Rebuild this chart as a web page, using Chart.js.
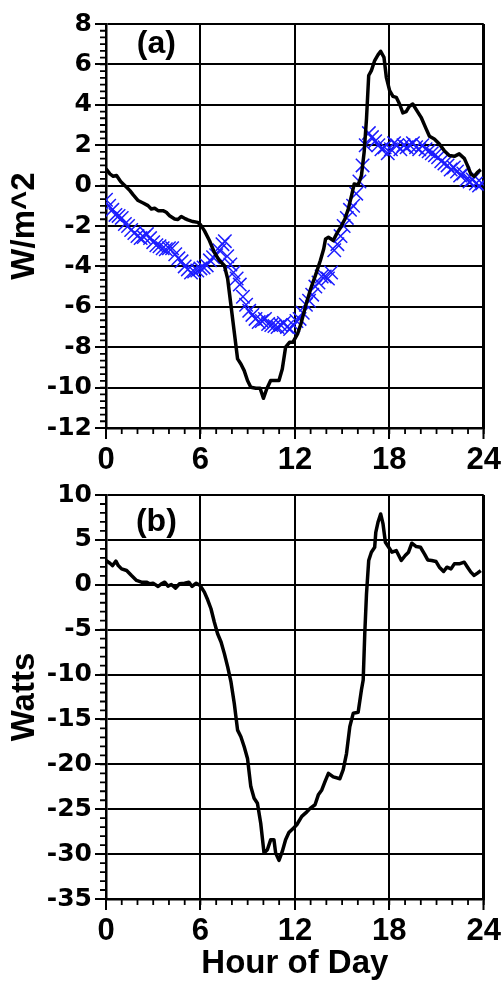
<!DOCTYPE html>
<html><head><meta charset="utf-8">
<script src="https://cdn.jsdelivr.net/npm/chart.js@4.4.0/dist/chart.umd.min.js"></script>
<style>
html,body{margin:0;padding:0;background:#fff;}
#wrap{position:relative;width:504px;height:984px;overflow:hidden;}
#ca{position:absolute;left:0;top:0;}
#cb{position:absolute;left:0;top:476px;}
</style></head><body>
<div id="wrap"><canvas id="ca" width="504" height="476"></canvas><canvas id="cb" width="504" height="508"></canvas></div>
<script>
// ---- data ----
const hourTicks = [0, 6, 12, 18, 24];
const fluxTicks = [-12, -10, -8, -6, -4, -2, 0, 2, 4, 6, 8];
const wattTicks = [-35, -30, -25, -20, -15, -10, -5, 0, 5, 10];

// panel (a) black line
const modelHours = [0,0.25,0.46,0.67,0.93,1.09,1.31,1.52,1.73,2.04,
  2.36,2.67,2.88,3.09,3.31,3.62,3.83,4.04,4.36,4.57,
  4.78,4.99,5.2,5.52,5.83,6.0,6.25,6.57,6.88,7.2,
  7.52,7.73,7.94,8.15,8.36,8.57,8.78,8.99,9.2,9.52,
  9.79,10.0,10.21,10.46,10.74,10.99,11.2,11.41,11.66,11.87,
  12.17,12.38,12.69,13.0,13.3,13.62,13.83,13.95,14.13,14.44,
  14.65,14.97,15.18,15.39,15.6,15.77,16.02,16.23,16.4,16.55,
  16.69,16.86,17.07,17.28,17.45,17.66,17.81,18.02,18.23,18.44,
  18.65,18.86,19.07,19.28,19.49,19.71,20.02,20.34,20.55,20.86,
  21.18,21.49,21.81,22.13,22.44,22.76,22.97,23.18,23.39,23.6,23.81];
const modelFlux = [0.83,0.58,0.46,0.5,0.2,0.08,-0.08,-0.25,-0.46,-0.74,
  -0.86,-0.99,-1.16,-1.12,-1.24,-1.24,-1.32,-1.49,-1.65,-1.68,
  -1.53,-1.62,-1.7,-1.78,-1.82,-1.93,-2.23,-2.72,-3.3,-3.71,
  -3.96,-4.62,-5.94,-7.26,-8.58,-8.83,-9.16,-9.65,-9.98,-10.03,
  -10.03,-10.53,-10.07,-9.65,-9.65,-9.65,-9.08,-8.0,-7.76,-7.76,
  -7.34,-6.85,-5.94,-5.12,-4.46,-3.71,-3.14,-2.64,-2.56,-2.72,
  -2.39,-1.98,-1.65,-1.16,-0.5,0.08,0.03,0.5,1.65,3.3,
  5.45,5.69,6.19,6.47,6.65,6.35,5.36,4.7,4.42,4.37,
  4.04,3.6,3.66,3.93,4.04,3.76,3.38,2.81,2.44,2.31,
  2.06,1.73,1.49,1.45,1.57,1.35,0.99,0.58,0.46,0.66,0.79];

// panel (a) blue crosses
const obsHours = [0.0,0.2,0.4,0.6,0.8,1.0,1.2,1.4,1.6,1.8,
  2.0,2.2,2.4,2.6,2.8,3.0,3.2,3.4,3.6,3.8,
  4.0,4.2,4.4,4.6,4.8,5.0,5.2,5.4,5.6,5.8,
  6.0,6.2,6.4,6.6,6.8,7.0,7.2,7.4,7.55,7.7,
  7.9,8.1,8.3,8.5,8.7,8.9,9.1,9.3,9.5,9.7,
  9.9,10.1,10.3,10.5,10.7,10.9,11.1,11.3,11.5,11.7,
  11.9,12.1,12.3,12.5,12.7,12.9,13.1,13.3,13.5,13.7,
  13.9,14.1,14.3,14.5,14.7,14.9,15.1,15.3,15.5,15.7,
  15.9,16.1,16.3,16.5,16.7,16.9,17.1,17.3,17.5,17.7,
  17.9,18.1,18.3,18.5,18.7,18.9,19.1,19.3,19.5,19.7,
  19.9,20.1,20.3,20.5,20.7,20.9,21.1,21.3,21.5,21.7,
  21.9,22.1,22.3,22.5,22.7,22.9,23.1,23.3,23.5,23.7,
  23.9];
const obsFlux = [-0.7,-1.0,-1.2,-1.45,-1.5,-1.6,-1.9,-2.0,-2.2,-2.35,
  -2.5,-2.6,-2.55,-2.4,-2.6,-2.8,-2.95,-3.0,-3.1,-3.15,
  -3.1,-3.1,-3.4,-3.6,-3.75,-4.0,-4.15,-4.3,-4.25,-4.2,
  -4.1,-4.05,-3.95,-3.7,-3.55,-3.45,-3.2,-2.9,-2.75,-3.5,
  -3.9,-4.3,-4.6,-4.9,-5.5,-5.9,-6.2,-6.4,-6.6,-6.75,
  -6.7,-6.6,-6.85,-6.9,-6.95,-7.0,-6.9,-6.8,-7.0,-7.1,
  -6.9,-6.7,-6.6,-6.3,-5.9,-5.7,-5.4,-5.0,-4.8,-4.5,
  -4.5,-4.6,-4.3,-3.2,-2.9,-2.5,-2.0,-1.6,-1.2,-1.0,
  -0.4,0.2,1.0,2.0,2.6,2.4,2.2,2.0,1.8,1.9,
  1.6,1.8,2.1,2.0,1.8,2.0,1.9,2.0,2.1,1.9,
  1.8,2.0,1.8,1.7,1.6,1.5,1.4,1.2,1.1,1.0,
  0.8,0.9,0.7,0.5,0.6,0.3,0.2,0.3,0.1,0.0,
  0.1];

// panel (b) black line
const powerHours = [0,0.25,0.42,0.63,0.78,0.99,1.31,1.62,1.94,2.25,
  2.57,2.78,2.99,3.31,3.52,3.73,3.94,4.15,4.42,4.67,
  4.99,5.26,5.47,5.73,5.98,6.25,6.46,6.67,6.88,7.09,
  7.31,7.52,7.73,7.94,8.15,8.36,8.57,8.78,8.99,9.2,
  9.41,9.62,9.83,10.04,10.25,10.46,10.67,10.78,10.99,11.2,
  11.41,11.62,11.92,12.13,12.44,12.76,12.97,13.28,13.49,13.71,
  13.92,14.13,14.44,14.86,15.07,15.28,15.49,15.71,16.02,16.23,
  16.34,16.44,16.55,16.69,16.86,17.07,17.14,17.28,17.45,17.6,
  17.75,17.96,18.17,18.44,18.76,19.01,19.22,19.43,19.71,19.98,
  20.23,20.44,20.69,20.97,21.18,21.45,21.66,21.92,22.13,22.44,
  22.76,22.97,23.18,23.39,23.6,23.81];
const powerWatts = [2.7,2.4,2.14,2.63,2.14,1.77,1.59,1.03,0.48,0.29,
  0.29,0.11,0.18,-0.19,0.11,0.29,-0.15,0.03,-0.37,0.11,
  0.18,0.29,-0.19,0.18,-0.08,-0.82,-1.67,-2.67,-4.15,-5.45,
  -6.37,-7.67,-9.15,-10.82,-13.22,-16.19,-16.93,-18.04,-19.34,-22.48,
  -23.78,-24.34,-26.56,-29.89,-29.52,-28.41,-28.41,-29.89,-30.7,-29.7,
  -28.41,-27.6,-27.1,-26.7,-25.8,-25.3,-24.9,-24.5,-23.4,-22.85,
  -21.9,-21.0,-21.4,-21.6,-20.6,-18.8,-15.8,-14.3,-14.2,-11.7,
  -10.6,-5.45,-1.0,2.7,3.63,4.18,5.85,6.96,7.89,6.78,
  4.74,4.18,3.63,3.81,2.7,3.26,3.63,4.63,4.26,4.18,
  3.44,2.77,2.7,2.59,1.96,1.48,1.96,1.77,2.33,2.33,
  2.52,1.96,1.41,1.04,1.3,1.59];

// ---- helpers ----
const pts = (xs, ys) => xs.map((x, i) => ({x, y: ys[i]}));
Chart.defaults.font.family = '"Liberation Sans", Arial, sans-serif';
Chart.defaults.color = '#000';

const minorTicks = {
  id: 'minorTicks',
  afterDraw(chart, args, o) {
    const {ctx, chartArea} = chart;
    const xs = chart.scales.x, ys = chart.scales.y;
    ctx.save();
    ctx.strokeStyle = '#000';
    ctx.lineWidth = 1.8;
    ctx.beginPath();
    const nx = Math.round((xs.max - xs.min) / o.xStep);
    for (let i = 0; i <= nx; i++) {
      const px = xs.getPixelForValue(xs.min + i * o.xStep);
      ctx.moveTo(px, chartArea.bottom);
      ctx.lineTo(px, chartArea.bottom + o.len);
    }
    const ny = Math.round((ys.max - ys.min) / o.yStep);
    for (let i = 0; i <= ny; i++) {
      const py = ys.getPixelForValue(ys.min + i * o.yStep);
      ctx.moveTo(chartArea.left, py);
      ctx.lineTo(chartArea.left - o.len, py);
    }
    ctx.stroke();
    ctx.restore();
  }
};
const panelLabel = {
  id: 'panelLabel',
  afterDraw(chart, args, o) {
    const {ctx} = chart;
    ctx.save();
    ctx.font = 'bold 32px "Liberation Sans", Arial, sans-serif';
    ctx.fillStyle = '#000';
    ctx.textAlign = 'center';
    ctx.textBaseline = 'middle';
    ctx.fillText(o.text, chart.scales.x.getPixelForValue(o.x), chart.scales.y.getPixelForValue(o.y));
    ctx.restore();
  }
};

function xScale(height, withTitle) {
  return {
    type: 'linear', min: 0, max: 24,
    afterBuildTicks: s => { s.ticks = hourTicks.map(v => ({value: v})); },
    afterFit: s => { s.height = height; },
    ticks: { font: {size: 31, weight: 'bold'}, padding: 3, maxRotation: 0, autoSkip: false, color: '#000' },
    grid: { color: '#000', lineWidth: c => (c.tick && c.tick.value === 24 ? 3 : 2), tickLength: 11, tickWidth: 2, tickColor: '#000' },
    border: { color: '#000', width: 2.5 },
    title: withTitle ? { display: true, text: 'Hour of Day', font: {size: 33, weight: 'bold'}, padding: {top: 0, bottom: 0}, color: '#000' } : {display: false}
  };
}
function yScale(min, max, tickVals, title) {
  return {
    type: 'linear', min, max,
    afterBuildTicks: s => { s.ticks = tickVals.map(v => ({value: v})); },
    afterFit: s => { s.width = 106; },
    ticks: { font: {family: '"DejaVu Sans", sans-serif', size: 25, weight: 'bold'}, padding: 3, autoSkip: false, color: '#000' },
    grid: { color: '#000', lineWidth: 2, tickLength: 11, tickWidth: 2, tickColor: '#000' },
    border: { color: '#000', width: 2.5 },
    title: { display: true, text: title, font: {size: 33, weight: 'bold'}, padding: {top: 5, bottom: 0}, color: '#000' }
  };
}
const common = {
  responsive: false, animation: false, devicePixelRatio: 1,
  events: [],
  plugins: { legend: {display: false}, tooltip: {enabled: false} }
};

new Chart(document.getElementById('ca'), {
  type: 'line',
  data: { datasets: [
    { data: pts(modelHours, modelFlux), borderColor: '#000', borderWidth: 3.5, pointRadius: 0, tension: 0, fill: false, borderJoinStyle: 'round' },
    { type: 'scatter', data: pts(obsHours, obsFlux), showLine: false, pointStyle: 'crossRot', pointRadius: 9.5, borderColor: '#1c1cff', pointBorderWidth: 1.5, backgroundColor: '#1c1cff' }
  ]},
  options: Object.assign({}, common, {
    layout: { padding: {left: 0, right: 18, top: 24, bottom: 0} },
    scales: { x: xScale(48, false), y: yScale(-12, 8, fluxTicks, 'W/m^2') },
    plugins: Object.assign({}, common.plugins, {
      minorTicks: {xStep: 1, yStep: 1/3, len: 6},
      panelLabel: {text: '(a)', x: 3.2, y: 7.0}
    })
  }),
  plugins: [minorTicks, panelLabel]
});

new Chart(document.getElementById('cb'), {
  type: 'line',
  data: { datasets: [
    { data: pts(powerHours, powerWatts), borderColor: '#000', borderWidth: 3.5, pointRadius: 0, tension: 0, fill: false, borderJoinStyle: 'round' }
  ]},
  options: Object.assign({}, common, {
    layout: { padding: {left: 0, right: 18, top: 19, bottom: 0} },
    scales: { x: xScale(85, true), y: yScale(-35, 10, wattTicks, 'Watts') },
    plugins: Object.assign({}, common.plugins, {
      minorTicks: {xStep: 1, yStep: 1, len: 6},
      panelLabel: {text: '(b)', x: 3.2, y: 7.0}
    })
  }),
  plugins: [minorTicks, panelLabel]
});
</script>
</body></html>
